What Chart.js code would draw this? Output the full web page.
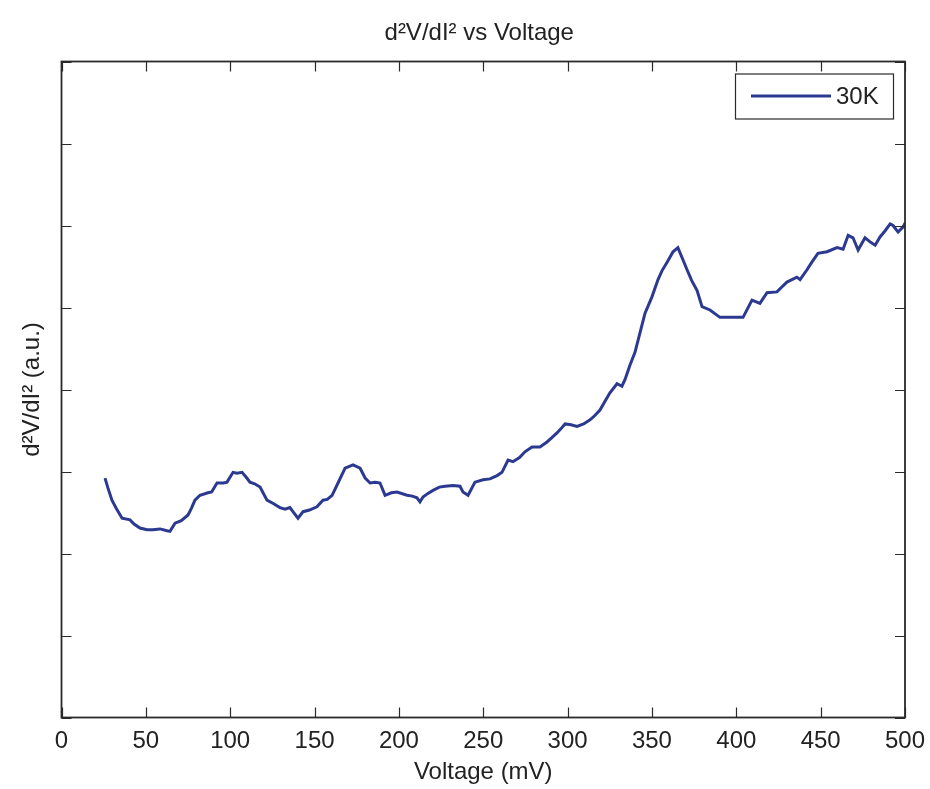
<!DOCTYPE html>
<html>
<head>
<meta charset="utf-8">
<script src="https://cdn.jsdelivr.net/npm/chart.js@4"></script>
<style>
  html, body { margin: 0; padding: 0; background: #ffffff; }
  #wrap { width: 930px; height: 789px; }
</style>
</head>
<body>
<div id="wrap"><canvas id="c" width="930" height="789"></canvas></div>
<script>
// ---- data ----
const chartTitle = "d\u00B2V/dI\u00B2 vs Voltage";
const xTitle = "Voltage (mV)";
const yTitle = "d\u00B2V/dI\u00B2 (a.u.)";
const seriesLabel = "30K";
const xTickValues = [0, 50, 100, 150, 200, 250, 300, 350, 400, 450, 500];
const yTickValues = [0, 1, 2, 3, 4, 5, 6, 7, 8];

const voltage = [
  25.8, 27.5, 29.9, 32.5, 35.9, 40.6, 43.0, 46.5, 50.7, 54.0,
  58.4, 62.0, 64.3, 67.3, 71.0, 75.0, 77.0, 79.1, 82.1, 86.8,
  89.0, 92.2, 96.0, 98.1, 101.7, 104.0, 107.0, 109.5, 111.7, 114.5,
  117.7, 121.8, 125.5, 129.5, 132.5, 135.4, 137.2, 140.2, 143.2, 147.0,
  151.4, 155.0, 157.5, 160.4, 163.9, 168.1, 172.8, 177.0, 180.0, 182.9,
  186.0, 188.8, 191.8, 195.5, 198.9, 204.8, 208.0, 210.7, 212.5, 214.3,
  217.0, 220.2, 224.0, 227.3, 232.0, 236.2, 238.0, 241.0, 245.1, 249.9,
  254.0, 258.2, 261.1, 264.7, 267.6, 271.5, 274.7, 278.9, 283.6, 287.8,
  290.5, 293.7, 296.0, 298.5, 302.0, 305.6, 309.5, 313.3, 316.0, 319.2,
  322.0, 325.1, 329.3, 332.2, 334.0, 337.0, 339.9, 342.9, 345.9, 350.0,
  353.6, 356.0, 358.9, 362.5, 365.4, 368.0, 370.8, 373.5, 376.7, 379.7,
  384.4, 390.3, 397.0, 404.0, 409.3, 414.0, 418.2, 424.1, 427.0, 430.0,
  435.9, 437.8, 441.9, 445.0, 448.4, 453.8, 459.7, 463.3, 466.3, 469.2,
  472.2, 476.3, 479.3, 482.3, 485.2, 488.0, 491.2, 492.9, 495.9, 498.8,
  500.0
];
const signal = [
  2.92, 2.80, 2.65, 2.55, 2.43, 2.41, 2.36, 2.31, 2.29, 2.29,
  2.30, 2.28, 2.27, 2.37, 2.40, 2.47, 2.55, 2.65, 2.71, 2.74,
  2.75, 2.86, 2.86, 2.87, 2.99, 2.98, 2.99, 2.93, 2.87, 2.85,
  2.81, 2.65, 2.61, 2.56, 2.54, 2.56, 2.51, 2.43, 2.51, 2.53,
  2.57, 2.65, 2.66, 2.71, 2.86, 3.04, 3.08, 3.04, 2.92, 2.86,
  2.87, 2.86, 2.71, 2.74, 2.75, 2.71, 2.70, 2.68, 2.63, 2.69,
  2.73, 2.77, 2.81, 2.82, 2.83, 2.82, 2.75, 2.71, 2.87, 2.90,
  2.91, 2.95, 2.99, 3.14, 3.12, 3.17, 3.24, 3.30, 3.30, 3.36,
  3.41, 3.47, 3.52, 3.58, 3.57, 3.55, 3.58, 3.63, 3.68, 3.75,
  3.85, 3.96, 4.07, 4.04, 4.12, 4.30, 4.45, 4.69, 4.93, 5.13,
  5.34, 5.45, 5.55, 5.68, 5.73, 5.60, 5.46, 5.33, 5.21, 5.01,
  4.97, 4.88, 4.88, 4.88, 5.09, 5.05, 5.18, 5.19, 5.25, 5.31,
  5.37, 5.34, 5.46, 5.56, 5.66, 5.68, 5.73, 5.71, 5.88, 5.85,
  5.70, 5.85, 5.80, 5.76, 5.86, 5.93, 6.02, 6.00, 5.92, 5.98,
  6.03
];

const points = voltage.map((v, i) => ({ x: v, y: signal[i] }));

const FONT = "'Liberation Sans', Arial, sans-serif";
const LINE_COLOR = "#2b3a90";
const AXIS_COLOR = "#2a2a2a";

// inward (MATLAB-style) ticks on all four sides + frame + boxed legend + title over the axes
const matlabAxes = {
  id: "matlabAxes",
  afterDatasetsDraw(chart) {
    const ctx = chart.ctx;
    const a = chart.chartArea;
    const xs = chart.scales.x, ys = chart.scales.y;
    const L = 10;
    ctx.save();
    ctx.strokeStyle = AXIS_COLOR;
    ctx.lineWidth = 1.2;
    ctx.beginPath();
    xTickValues.forEach(v => {
      const px = Math.round(xs.getPixelForValue(v)) + 0.5;
      ctx.moveTo(px, a.bottom); ctx.lineTo(px, a.bottom - L);
      ctx.moveTo(px, a.top); ctx.lineTo(px, a.top + L);
    });
    yTickValues.forEach(v => {
      const py = Math.round(ys.getPixelForValue(v)) + 0.5;
      ctx.moveTo(a.left, py); ctx.lineTo(a.left + L, py);
      ctx.moveTo(a.right, py); ctx.lineTo(a.right - L, py);
    });
    ctx.stroke();
    // frame
    ctx.lineWidth = 1.8;
    ctx.strokeRect(a.left, a.top, a.right - a.left, a.bottom - a.top);

    // title, centred over the axes box
    ctx.fillStyle = "#222222";
    ctx.font = "24px " + FONT;
    ctx.textAlign = "center";
    ctx.textBaseline = "middle";
    ctx.fillText(chartTitle, (a.left + a.right) / 2 - 4, 33);

    // legend box
    const ds = chart.data.datasets[0];
    const w = 158, h = 45;
    const bx = a.right - 12 - w, by = a.top + 12;
    ctx.fillStyle = "#ffffff";
    ctx.fillRect(bx, by, w, h);
    ctx.strokeStyle = AXIS_COLOR;
    ctx.lineWidth = 1.2;
    ctx.strokeRect(bx + 0.5, by + 0.5, w, h);
    ctx.strokeStyle = ds.borderColor;
    ctx.lineWidth = 3;
    ctx.beginPath();
    ctx.moveTo(bx + 16, by + h / 2);
    ctx.lineTo(bx + 96, by + h / 2);
    ctx.stroke();
    ctx.fillStyle = "#222222";
    ctx.font = "24px " + FONT;
    ctx.textBaseline = "middle";
    ctx.textAlign = "left";
    ctx.fillText(ds.label, bx + 101, by + h / 2 + 1);
    ctx.restore();
  }
};

new Chart(document.getElementById("c"), {
  type: "scatter",
  data: {
    datasets: [{
      label: seriesLabel,
      data: points,
      showLine: true,
      borderColor: LINE_COLOR,
      backgroundColor: LINE_COLOR,
      borderWidth: 3,
      pointRadius: 0,
      tension: 0
    }]
  },
  options: {
    responsive: false,
    animation: false,
    devicePixelRatio: 1,
    layout: { padding: { left: 0, right: 25, top: 61.5, bottom: 0 } },
    plugins: {
      legend: { display: false },
      tooltip: { enabled: false },
      title: { display: false }
    },
    scales: {
      x: {
        type: "linear",
        min: 0, max: 500,
        afterBuildTicks(s) { s.ticks = xTickValues.map(v => ({ value: v })); },
        afterFit(s) { s.height = 71.5; s.paddingRight = 0; s.paddingLeft = 0; },
        grid: { display: false, drawTicks: false },
        border: { display: false },
        ticks: {
          color: "#222222",
          font: { family: FONT, size: 24 },
          padding: 9,
          maxRotation: 0,
          autoSkip: false
        },
        title: {
          display: true,
          text: xTitle,
          color: "#222222",
          font: { family: FONT, size: 24 },
          padding: { top: 0, bottom: 2 }
        }
      },
      y: {
        type: "linear",
        min: 0, max: 8,
        afterBuildTicks(s) { s.ticks = yTickValues.map(v => ({ value: v })); },
        afterFit(s) { s.width = 61.5; s.paddingTop = 0; s.paddingBottom = 0; },
        grid: { display: false, drawTicks: false },
        border: { display: false },
        ticks: { display: false },
        title: {
          display: true,
          text: yTitle,
          color: "#222222",
          font: { family: FONT, size: 24 },
          padding: { top: 18, bottom: 0 }
        }
      }
    }
  },
  plugins: [matlabAxes]
});
</script>
</body>
</html>
